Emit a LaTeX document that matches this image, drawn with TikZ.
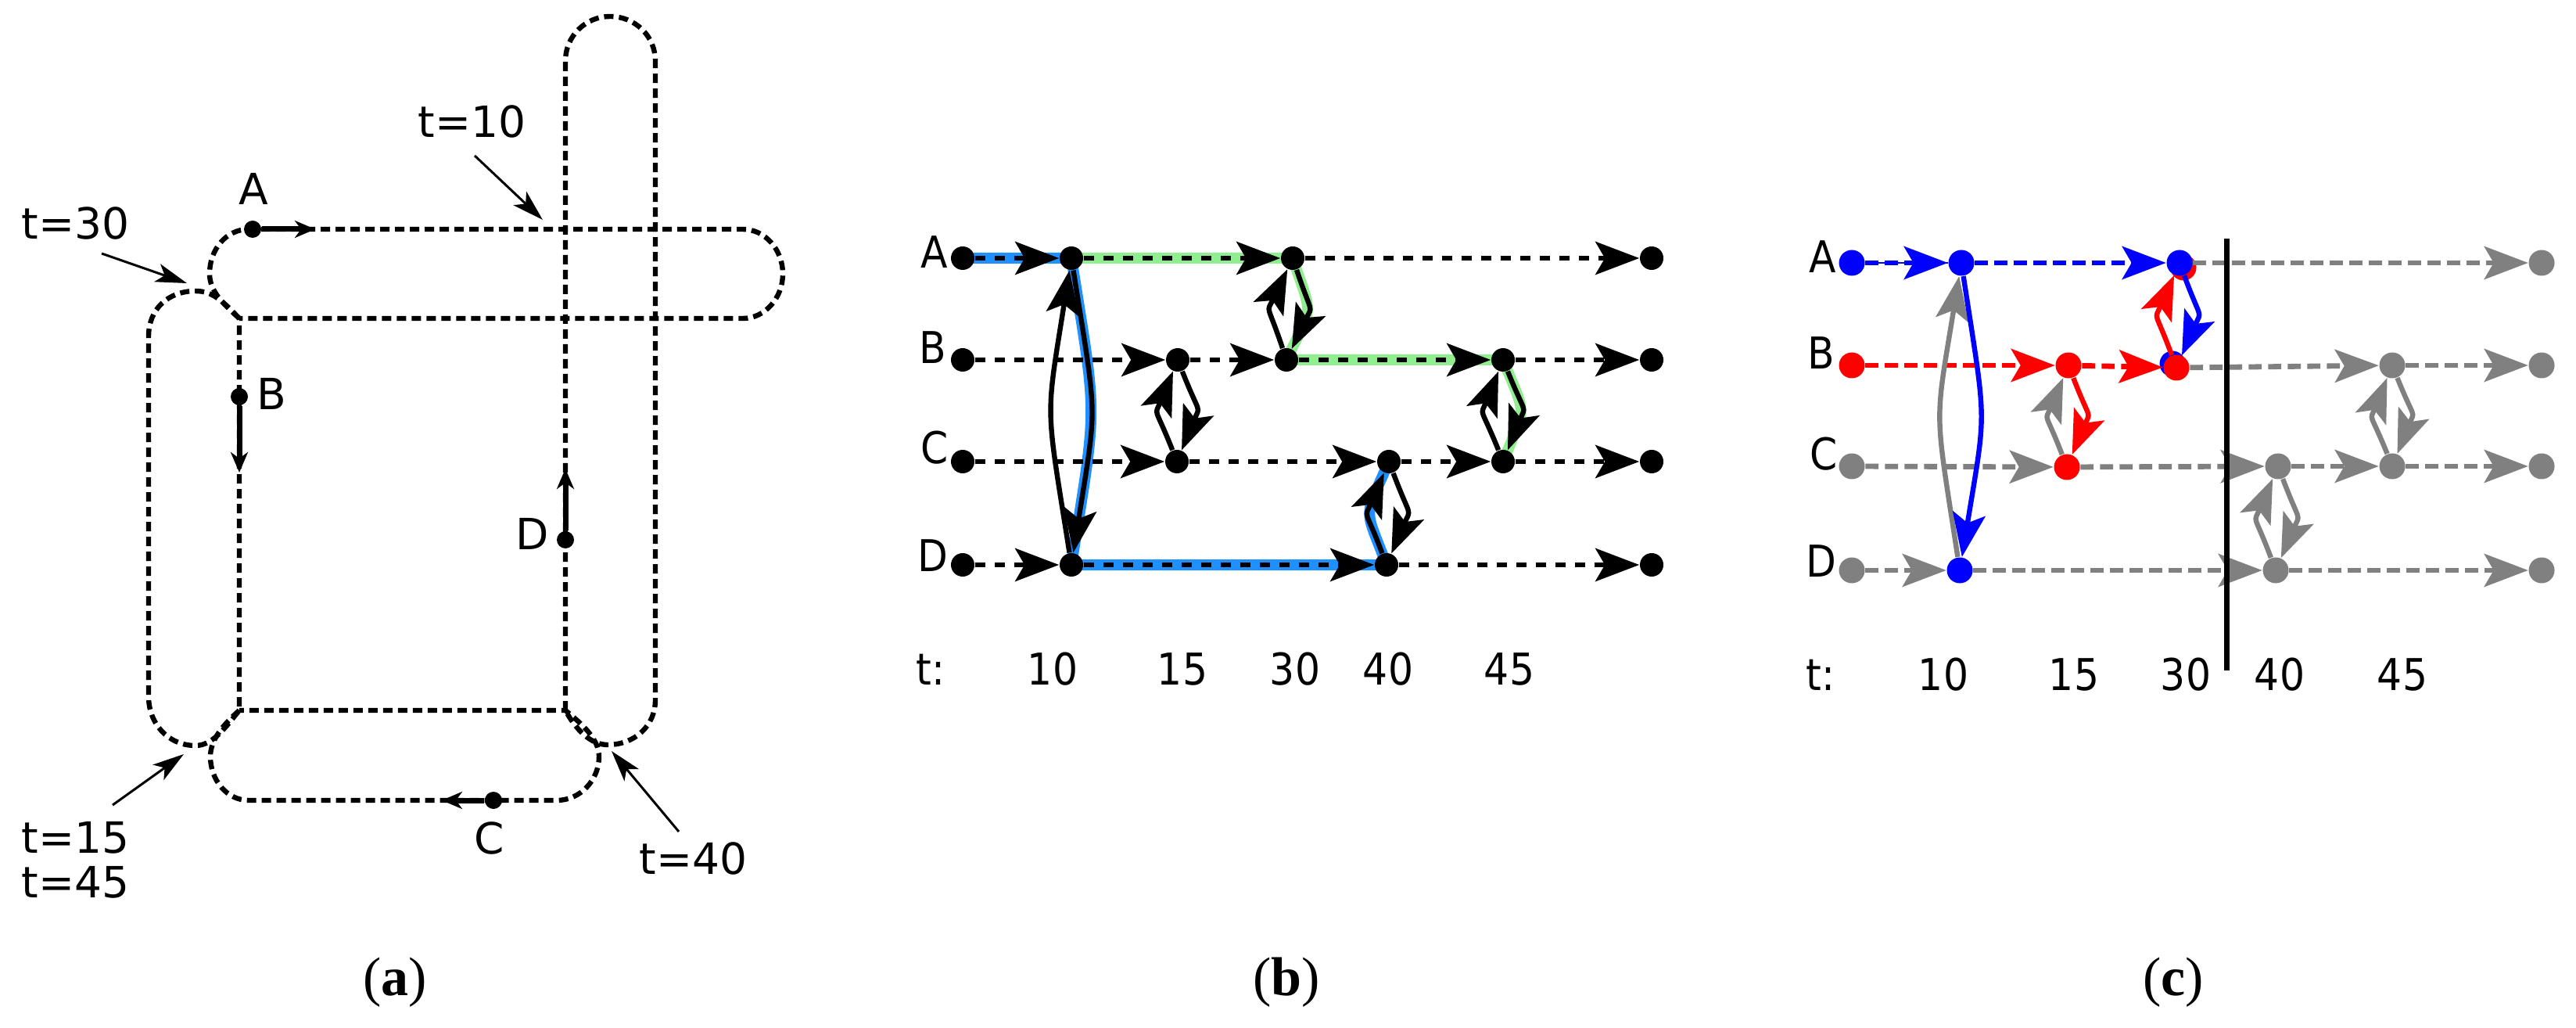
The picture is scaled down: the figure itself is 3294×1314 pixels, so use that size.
\documentclass[tikz,border=0pt]{standalone}
\usepackage{fontspec}
\setmainfont{DejaVu Sans}
\newfontfamily\condfont[FakeStretch=0.9]{DejaVu Sans}
\newfontfamily\capfont{Liberation Serif}
\usetikzlibrary{arrows.meta}
\pgfdeclarelayer{bg}
\pgfsetlayers{bg,main}
\definecolor{hlblue}{RGB}{30,144,255}
\definecolor{hlgreen}{RGB}{144,238,144}
\definecolor{cblue}{RGB}{0,0,255}
\definecolor{cred}{RGB}{255,0,0}
\definecolor{cgray}{RGB}{128,128,128}
\begin{document}
\begin{tikzpicture}[x=0.25pt,y=0.25pt,
  route/.style={line width=1.6pt, dash pattern=on 3pt off 1.75pt},
  ptarrow/.style={line width=1.75pt, -{Stealth[length=6.5pt,width=5.5pt,inset=2pt]}},
  tarrow/.style={line width=0.75pt, -{Stealth[length=10pt,width=6pt,inset=2.5pt]}},
  adot/.style={circle, fill=black, inner sep=0pt, minimum size=5.5pt},
  bdot/.style={circle, fill=#1, inner sep=0pt, minimum size=7.5pt},
  bdot/.default=black,
  cdot/.style={circle, fill=#1, inner sep=0pt, minimum size=8.25pt},
  cdot/.default=cgray,
  lab/.style={inner sep=0pt, font=\fontsize{13.75}{16}\selectfont},
  blab/.style={inner sep=0pt, font=\condfont\fontsize{14}{16}\selectfont},
  captext/.style={inner sep=0pt, font=\capfont\fontsize{17.5}{20}\selectfont},
  bigtip/.style={-{Stealth[length=14pt,width=10.5pt,inset=3pt]}},
  harrb/.style={bigtip, line width=1.7pt, dash pattern=on 3.4pt off 2.85pt, draw=#1},
  harrb/.default=black,
  harrc/.style={bigtip, line width=1.7pt, dash pattern=on 4.2pt off 2.05pt, draw=#1},
  harrc/.default=cgray,
  carr/.style={bigtip, line width=1.6pt, draw=#1},
  carr/.default=black,
  lbend/.style={bend left=9, looseness=1.4},
  sbend/.style={bend left=22, looseness=1.6},
  hlb/.style={line width=3.5pt, hlblue},
  hlg/.style={line width=3.5pt, hlgreen}
]
\useasboundingbox (0,0) rectangle (3294,-1314);

%% ---------------- panel (a) ----------------
\coordinate (P1) at (306,-407);
\coordinate (P3) at (306,-908);
\coordinate (P4) at (723,-908);
% A loop
\draw[route] (P1) .. controls (285,-388) and (268,-372) .. (268,-350)
  .. controls (268,-318) and (290,-293) .. (318,-293) -- (950,-293)
  .. controls (978,-293) and (1001,-319) .. (1001,-350)
  .. controls (1001,-381) and (978,-407) .. (950,-407) -- cycle;
% B loop
\draw[route] (P1) .. controls (285,-385) and (272,-372) .. (250,-372)
  .. controls (215,-372) and (190,-395) .. (190,-430) -- (190,-890)
  .. controls (190,-925) and (215,-953) .. (250,-953)
  .. controls (272,-953) and (288,-930) .. (P3) -- cycle;
% C loop
\draw[route] (P3) .. controls (286,-926) and (269,-945) .. (269,-967)
  .. controls (269,-997) and (290,-1023) .. (318,-1023) -- (712,-1023)
  .. controls (742,-1023) and (766,-997) .. (766,-967)
  .. controls (766,-945) and (745,-926) .. (P4) -- cycle;
% D loop
\draw[route] (P4) -- (723,-78) .. controls (723,-46) and (749,-21) .. (780,-21)
  .. controls (812,-21) and (838,-46) .. (838,-78) -- (838,-895)
  .. controls (838,-927) and (812,-952) .. (777,-952)
  .. controls (755,-952) and (736,-932) .. (P4);

% vehicles
\node[adot] (pA) at (323,-293) {};
\coordinate (pAt) at (403,-293);
\draw[ptarrow] (pA) -- (pAt);
\node[adot] (pB) at (306,-507) {};
\coordinate (pBt) at (306,-604);
\draw[ptarrow] (pB) -- (pBt);
\node[adot] (pC) at (631,-1023) {};
\coordinate (pCt) at (565,-1023);
\draw[ptarrow] (pC) -- (pCt);
\node[adot] (pD) at (723,-690) {};
\coordinate (pDt) at (723,-599);
\draw[ptarrow] (pD) -- (pDt);

\node[lab, anchor=base] (lA) at (324,-262) {A};
\node[lab, anchor=base] (lB) at (347,-524) {B};
\node[lab, anchor=base] (lC) at (626,-1091) {C};
\node[lab, anchor=base] (lD) at (681,-702) {D};

\node[lab, anchor=base west] (t10) at (534,-176) {t=10};
\node[lab, anchor=base west] (t30) at (27,-306) {t=30};
\node[lab, anchor=base west] (t15) at (27,-1090) {t=15};
\node[lab, anchor=base west] (t45) at (27,-1147) {t=45};
\node[lab, anchor=base west] (t40) at (817,-1117) {t=40};

\coordinate (a10s) at (607,-199); \coordinate (a10e) at (694,-281);
\coordinate (a30s) at (130,-324); \coordinate (a30e) at (239,-362);
\coordinate (a15s) at (144,-1029); \coordinate (a15e) at (235,-964);
\coordinate (a40s) at (868,-1063); \coordinate (a40e) at (782,-960);
\draw[tarrow] (a10s) -- (a10e);
\draw[tarrow] (a30s) -- (a30e);
\draw[tarrow] (a15s) -- (a15e);
\draw[tarrow] (a40s) -- (a40e);

\node[captext] (capa) at (505,-1256) {(\textbf{a})};

%% ---------------- panel (b) ----------------
\node[bdot] (bAs) at (1231,-330) {};
\node[bdot] (bA10) at (1370,-330) {};
\node[bdot] (bA30) at (1653,-330) {};
\node[bdot] (bAe) at (2112,-330) {};
\node[bdot] (bBs) at (1231,-460) {};
\node[bdot] (bB15) at (1506,-460) {};
\node[bdot] (bB30) at (1645,-460) {};
\node[bdot] (bB45) at (1922,-460) {};
\node[bdot] (bBe) at (2112,-460) {};
\node[bdot] (bCs) at (1231,-590) {};
\node[bdot] (bC15) at (1505,-590) {};
\node[bdot] (bC40) at (1776,-590) {};
\node[bdot] (bC45) at (1922,-590) {};
\node[bdot] (bCe) at (2112,-590) {};
\node[bdot] (bDs) at (1231,-722) {};
\node[bdot] (bD10) at (1370,-722) {};
\node[bdot] (bD40) at (1773,-722) {};
\node[bdot] (bDe) at (2112,-722) {};

\begin{pgfonlayer}{bg}
\draw[hlb] (bAs.center) -- (bA10.center) to[lbend] (bD10.center) -- (bD40.center) to[sbend] (bC40.center);
\draw[hlg] (bA10.center) -- (bA30.center) to[sbend] (bB30.center) -- (bB45.center) to[sbend] (bC45.center);
\end{pgfonlayer}

\draw[harrb] (bAs) -- (bA10);
\draw[harrb] (bA10) -- (bA30);
\draw[harrb] (bA30) -- (bAe);
\draw[harrb] (bBs) -- (bB15);
\draw[harrb] (bB15) -- (bB30);
\draw[harrb] (bB30) -- (bB45);
\draw[harrb] (bB45) -- (bBe);
\draw[harrb] (bCs) -- (bC15);
\draw[harrb] (bC15) -- (bC40);
\draw[harrb] (bC40) -- (bC45);
\draw[harrb] (bC45) -- (bCe);
\draw[harrb] (bDs) -- (bD10);
\draw[harrb] (bD10) -- (bD40);
\draw[harrb] (bD40) -- (bDe);

\draw[carr] (bD10) to[lbend] (bA10);
\draw[carr] (bA10) to[lbend] (bD10);
\draw[carr] (bC15) to[sbend] (bB15);
\draw[carr] (bB15) to[sbend] (bC15);
\draw[carr] (bB30) to[sbend] (bA30);
\draw[carr] (bA30) to[sbend] (bB30);
\draw[carr] (bD40) to[sbend] (bC40);
\draw[carr] (bC40) to[sbend] (bD40);
\draw[carr] (bC45) to[sbend] (bB45);
\draw[carr] (bB45) to[sbend] (bC45);

\node[blab, anchor=base east] (bLA) at (1213,-343) {A};
\node[blab, anchor=base east] (bLB) at (1211,-465) {B};
\node[blab, anchor=base east] (bLC) at (1213,-593) {C};
\node[blab, anchor=base east] (bLD) at (1213,-730) {D};
\node[blab, anchor=base] (btt) at (1190,-875) {t:};
\node[blab, anchor=base] (bt10) at (1346,-875) {10};
\node[blab, anchor=base] (bt15) at (1512,-875) {15};
\node[blab, anchor=base] (bt30) at (1656,-875) {30};
\node[blab, anchor=base] (bt40) at (1775,-875) {40};
\node[blab, anchor=base] (bt45) at (1930,-875) {45};

\node[captext] (capb) at (1645,-1256) {(\textbf{b})};

%% ---------------- panel (c) ----------------
\node[cdot=cred] (cA30r) at (2792,-342) {};
\node[cdot=cblue] (cB30b) at (2778,-465) {};

\node[cdot=cblue] (cAs) at (2368,-336) {};
\node[cdot=cblue] (cA10) at (2508,-336) {};
\node[cdot=cblue] (cA30) at (2787,-336) {};
\node[cdot] (cAe) at (3250,-336) {};
\node[cdot=cred] (cBs) at (2368,-467) {};
\node[cdot=cred] (cB15) at (2645,-467) {};
\node[cdot=cred] (cB30) at (2783,-470) {};
\node[cdot] (cB45) at (3059,-467) {};
\node[cdot] (cBe) at (3250,-467) {};
\node[cdot] (cCs) at (2368,-596) {};
\node[cdot=cred] (cC15) at (2643,-597) {};
\node[cdot] (cC40) at (2913,-596) {};
\node[cdot] (cC45) at (3059,-596) {};
\node[cdot] (cCe) at (3250,-596) {};
\node[cdot] (cDs) at (2368,-729) {};
\node[cdot=cblue] (cD10) at (2506,-729) {};
\node[cdot] (cD40) at (2910,-729) {};
\node[cdot] (cDe) at (3250,-729) {};

\draw[cblue, line width=0.6pt] (cAs) -- (cA10);
\draw[harrc=cblue] (cAs) -- (cA10);
\draw[harrc=cblue] (cA10) -- (cA30);
\draw[harrc] (cA30) -- (cAe);
\draw[harrc=cred] (cBs) -- (cB15);
\draw[harrc=cred] (cB15) -- (cB30);
\draw[harrc] (cB30) -- (cB45);
\draw[harrc] (cB45) -- (cBe);
\draw[harrc] (cCs) -- (cC15);
\draw[harrc] (cC15) -- (cC40);
\draw[harrc] (cC40) -- (cC45);
\draw[harrc] (cC45) -- (cCe);
\draw[harrc] (cDs) -- (cD10);
\draw[harrc] (cD10) -- (cD40);
\draw[harrc] (cD40) -- (cDe);

\draw[carr=cgray] (cD10) to[lbend] (cA10);
\draw[carr=cblue] (cA10) to[lbend] (cD10);
\draw[carr=cgray] (cC15) to[sbend] (cB15);
\draw[carr=cred] (cB15) to[sbend] (cC15);
\draw[carr=cred] (cB30) to[sbend] (cA30);
\draw[carr=cblue] (cA30) to[sbend] (cB30);
\draw[carr=cgray] (cD40) to[sbend] (cC40);
\draw[carr=cgray] (cC40) to[sbend] (cD40);
\draw[carr=cgray] (cC45) to[sbend] (cB45);
\draw[carr=cgray] (cB45) to[sbend] (cC45);

\coordinate (vtop) at (2847,-305);
\coordinate (vbot) at (2847,-857);
\draw[line width=1.75pt] (vtop) -- (vbot);

\node[blab, anchor=base east] (cLA) at (2349,-349) {A};
\node[blab, anchor=base east] (cLB) at (2347,-472) {B};
\node[blab, anchor=base east] (cLC) at (2350,-600) {C};
\node[blab, anchor=base east] (cLD) at (2349,-737) {D};
\node[blab, anchor=base] (ctt) at (2328,-882) {t:};
\node[blab, anchor=base] (ct10) at (2485,-882) {10};
\node[blab, anchor=base] (ct15) at (2652,-882) {15};
\node[blab, anchor=base] (ct30) at (2795,-882) {30};
\node[blab, anchor=base] (ct40) at (2915,-882) {40};
\node[blab, anchor=base] (ct45) at (3072,-882) {45};

\node[captext] (capc) at (2779,-1256) {(\textbf{c})};
\end{tikzpicture}
\end{document}
